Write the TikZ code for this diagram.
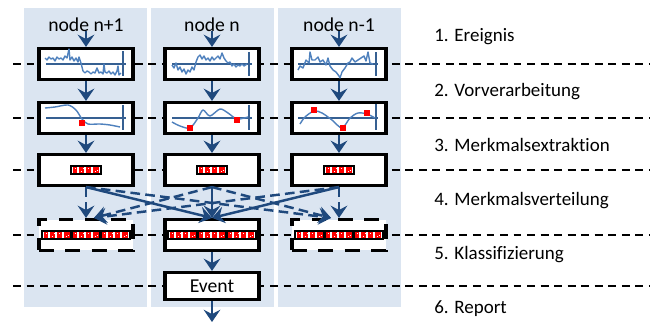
\documentclass[tikz,border=0pt]{standalone}
\usepackage{fontspec}
\setmainfont{Carlito}[Ligatures=NoCommon]
\usetikzlibrary{arrows.meta,calc}
\definecolor{colbg}{RGB}{219,229,241}
\definecolor{arrblue}{RGB}{31,73,125}
\definecolor{sigblue}{RGB}{79,129,189}
\definecolor{axblue}{RGB}{54,96,146}
\newcommand\peak[2]{\fill[red] (#1-3,#2-3) rectangle ++(6,6);}

\begin{document}
\begin{tikzpicture}[x=0.02cm, y=-0.02cm,
        stage/.style={draw, line width=1.8pt, fill=white, minimum width=1.88cm, minimum height=0.62cm, inner sep=0pt},
        guess/.style={stage, dash pattern=on 8.5pt off 6.5pt},
        arr/.style={arrblue, line width=1.4pt, -{Stealth[length=7pt,width=9.5pt,inset=2.5pt]}},
        darr/.style={arr, dash pattern=on 5.5pt off 3pt},
        level/.style={line width=1.1pt, dash pattern=on 4.5pt off 3.2pt},
        sig/.style={sigblue, line width=0.8pt, line join=round},
        axis/.style={axblue, line width=0.8pt},
        lbl/.style={anchor=base west, inner sep=0pt, font=\fontsize{10.8}{13}\selectfont},
        head/.style={anchor=base, font=\fontsize{11.2}{13}\selectfont},
        fbar/.pic={
            \fill[red] (-13,-3) rectangle (13,3);
            \foreach \dx in {-8,-1,6} \fill[white] (\dx-0.8,-3) rectangle (\dx+0.8,3);
            \foreach \dx/\dy in {-11/-2,-5/1,2/-2,9/1,-3/-2,11/0} \fill[white] (\dx,\dy) rectangle ++(1.2,1.2);
            \draw[line width=0.9pt] (-15,-4) rectangle (15,4);
        }]
        \useasboundingbox (0,0) rectangle (650,325);
        % columns
        \fill[colbg] (24,8) rectangle (147,307);
        \fill[colbg] (151,8) rectangle (274,307);
        \fill[colbg] (278,8) rectangle (401,307);
        % levels
        \draw[level] (13,64) -- (650,64);
        \draw[level] (13,118) -- (650,118);
        \draw[level] (13,170) -- (650,170);
        \draw[level] (13,235) -- (650,235);
        \draw[level] (13,286) -- (650,286);
        % node n+1
        \node[head] (h1) at (86,31) {node n+1};
        \node[stage] (ev1) at (86,64) {};
        \node[stage] (pre1) at (86,118) {};
        \node[stage] (fx1) at (86,170) {};
        \node[guess] (cl1) at (86,235) {};
        % node n
        \node[head] (h2) at (212,31) {node n};
        \node[stage] (ev2) at (212,64) {};
        \node[stage] (pre2) at (212,118) {};
        \node[stage] (fx2) at (212,170) {};
        \node[stage] (cl2) at (212,235) {};
        \node[stage, minimum height=0.54cm, font=\fontsize{11.2}{13}\selectfont] (ev) at (212,286) {Event};
        % node n-1
        \node[head] (h3) at (339,31) {node n-1};
        \node[stage] (ev3) at (339,64) {};
        \node[stage] (pre3) at (339,118) {};
        \node[stage] (fx3) at (339,170) {};
        \node[guess] (cl3) at (339,235) {};
        \coordinate (out) at (212,322);
        % signals
        \draw[axis] (46,64) -- (126,64) (123,51) -- (123,76);
        \draw[sig] (45,58)--(47,60)--(49,57)--(51,59)--(53,58)--(55,61)--(57,57)--(59,59)--(61,58)--(63,60)--(65,56)--(67,58)--(69,49)--(70,60)--(72,57)--(74,61)--(76,58)--(78,62)--(79,57)--(81,63)--(83,71)--(85,73)--(87,71)--(89,72)--(91,74)--(93,72)--(95,73)--(97,68)--(99,73)--(101,72)--(103,74)--(104,64)--(105,72)--(107,73)--(109,71)--(111,74)--(113,72)--(115,75)--(117,71)--(118,66)--(119,75)--(121,73);
        \draw[axis] (172,64) -- (252,64) (249,52) -- (249,76);
        \draw[sig] (172,65)--(174,68)--(176,63)--(178,70)--(180,67)--(182,72)--(184,69)--(186,74)--(188,70)--(190,72)--(192,67)--(194,70)--(196,62)--(198,57)--(200,55)--(202,59)--(204,56)--(206,60)--(208,58)--(210,61)--(212,57)--(214,60)--(216,58)--(218,56)--(220,59)--(222,53)--(224,58)--(226,61)--(228,63)--(230,62)--(232,66)--(234,64)--(236,67)--(238,65)--(240,66)--(242,64)--(244,66)--(247,64);
        \draw[axis] (298,64) -- (378,64) (376,52) -- (376,76);
        \draw[sig] (298,70)--(300,66)--(303,68)--(306,60)--(309,63)--(310,52)--(312,60)--(315,60)--(318,57)--(320,62)--(323,60)--(326,65)--(328,58)--(330,66)--(333,70)--(336,72)--(339,76)--(340,78)--(342,72)--(345,68)--(348,63)--(350,62)--(352,58)--(355,62)--(358,60)--(361,58)--(364,56)--(366,61)--(368,52)--(370,63)--(373,64);
        % smoothed
        \draw[axis] (46,118) -- (126,118) (123,105) -- (123,130);
        \draw[sig] plot[smooth] coordinates {(45,108) (55,107) (68,105) (76,110) (82,119) (88,124) (100,124) (110,125) (120,127)};
        \peak{82}{123}
        \draw[axis] (172,118) -- (252,118) (249,105) -- (249,130);
        \draw[sig] plot[smooth] coordinates {(172,122) (180,126) (190,128) (198,118) (203,110) (210,116) (220,109) (228,113) (237,119) (248,117)};
        \peak{190}{128}
        \peak{237}{120}
        \draw[axis] (298,118) -- (378,118) (376,104) -- (376,130);
        \draw[sig] plot[smooth] coordinates {(300,124) (305,117) (314,111) (322,113) (332,120) (342,128) (350,118) (358,113) (367,114) (375,118)};
        \peak{314}{110}
        \peak{343}{128}
        \peak{367}{113}
        % features
        \pic at (86,170) {fbar};
        \pic at (212,170) {fbar};
        \pic at (339,170) {fbar};
        \pic at (57,235) {fbar};
        \pic at (86,235) {fbar};
        \pic at (115,235) {fbar};
        \pic at (183,235) {fbar};
        \pic at (212,235) {fbar};
        \pic at (241,235) {fbar};
        \pic at (310,235) {fbar};
        \pic at (339,235) {fbar};
        \pic at (368,235) {fbar};
        % flow
        \draw[arr] (h1.base) -- (ev1);
        \draw[arr] (ev1) -- (pre1);
        \draw[arr] (pre1) -- (fx1);
        \draw[arr] (h2.base) -- (ev2);
        \draw[arr] (ev2) -- (pre2);
        \draw[arr] (pre2) -- (fx2);
        \draw[arr] (h3.base) -- (ev3);
        \draw[arr] (ev3) -- (pre3);
        \draw[arr] (pre3) -- (fx3);
        \draw[darr] (fx1) -- (cl1);
        \draw[arr] (fx1.south) -- (cl2.north);
        \draw[darr] (fx1.south) -- ($(cl3.north)+(-8,0)$);
        \draw[darr] (fx2.south) -- ($(cl1.north)+(8,0)$);
        \draw[arr] (fx2) -- (cl2);
        \draw[darr] (fx2.south) -- ($(cl3.north)+(-8,0)$);
        \draw[darr] (fx3.south) -- ($(cl1.north)+(8,0)$);
        \draw[arr] (fx3.south) -- (cl2.north);
        \draw[darr] (fx3) -- (cl3);
        \draw[arr] (cl2) -- (ev);
        \draw[arr] (ev) -- (out);
        % steps
        \node[lbl] (s1) at (434,41.5) {1. Ereignis};
        \node[lbl] (s2) at (434,96.5) {2. Vorverarbeitung};
        \node[lbl] (s3) at (434,151) {3. Merkmalsextraktion};
        \node[lbl] (s4) at (434,205.5) {4. Merkmalsverteilung};
        \node[lbl] (s5) at (434,259.5) {5. Klassifizierung};
        \node[lbl] (s6) at (434,313) {6. Report};
\end{tikzpicture}
\end{document}
